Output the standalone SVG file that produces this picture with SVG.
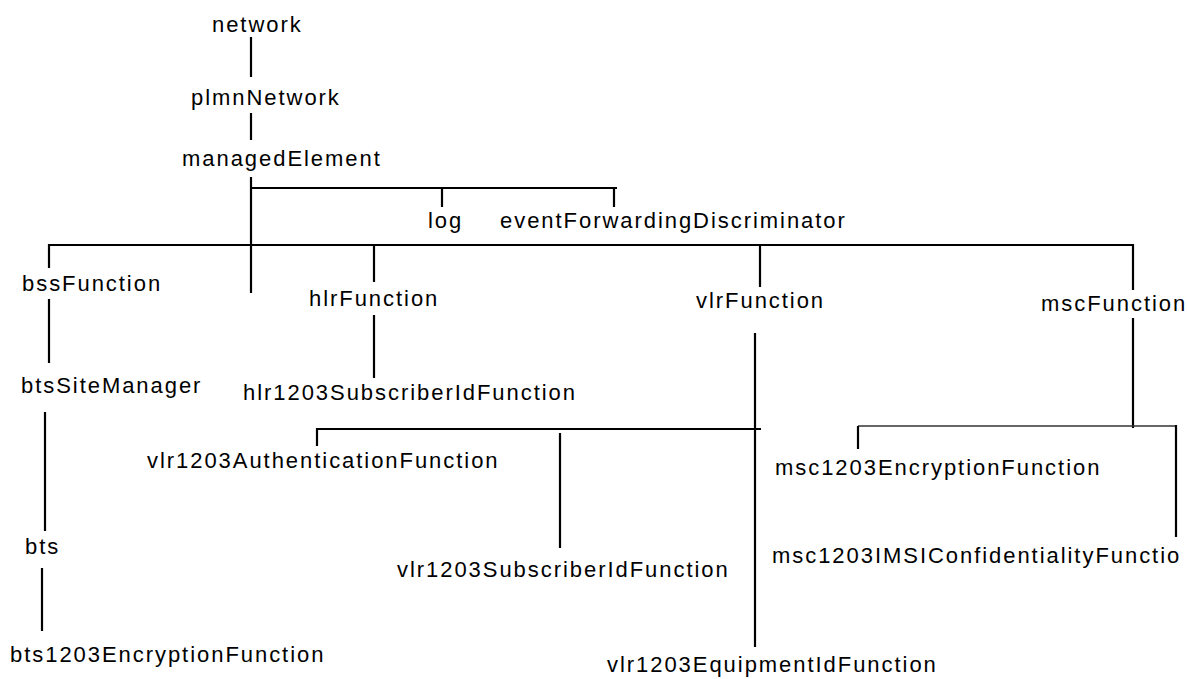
<svg xmlns="http://www.w3.org/2000/svg" width="1187" height="679" viewBox="0 0 1187 679">
<style>
text{font-family:"Liberation Sans",Arial,sans-serif;font-size:22px;letter-spacing:1.95px;fill:#000}
.c line{stroke:#000;stroke-width:2.2;fill:none}
.c line.thin{stroke:#333;stroke-width:1.6}
</style>
<rect width="1187" height="679" fill="#fff"/>
<g class="c" id="connectors">
<line x1="251" y1="37" x2="251" y2="77"/>
<line x1="251" y1="113" x2="251" y2="140"/>
<line x1="251" y1="177" x2="251" y2="293"/>
<line x1="250" y1="188" x2="617" y2="188"/>
<line x1="442" y1="188" x2="442" y2="207"/>
<line x1="614" y1="188" x2="614" y2="207"/>
<line x1="48" y1="245" x2="1134" y2="245"/>
<line x1="49" y1="244" x2="49" y2="268"/>
<line x1="49" y1="299" x2="49" y2="363"/>
<line x1="45" y1="412" x2="45" y2="531"/>
<line x1="42" y1="568" x2="42" y2="631"/>
<line x1="374" y1="245" x2="374" y2="282"/>
<line x1="374" y1="315" x2="374" y2="378"/>
<line x1="760" y1="245" x2="760" y2="287"/>
<line x1="755" y1="333" x2="755" y2="647"/>
<line x1="316" y1="429" x2="761" y2="429"/>
<line x1="317" y1="428" x2="317" y2="446"/>
<line x1="560" y1="433" x2="560" y2="548"/>
<line x1="1133" y1="244" x2="1133" y2="290"/>
<line x1="1133" y1="318" x2="1133" y2="428"/>
<line class="thin" x1="858" y1="426" x2="1177" y2="426"/>
<line x1="858" y1="426" x2="858" y2="449"/>
<line x1="1176" y1="425" x2="1176" y2="537"/>
</g>
<g id="network"><text x="212" y="32">network</text></g>
<g id="plmnNetwork"><text x="191" y="105">plmnNetwork</text></g>
<g id="managedElement"><text x="182" y="166">managedElement</text></g>
<g id="log"><text x="428" y="228">log</text></g>
<g id="eventForwardingDiscriminator"><text x="500" y="228">eventForwardingDiscriminator</text></g>
<g id="bssFunction"><text x="22" y="291">bssFunction</text></g>
<g id="hlrFunction"><text x="309" y="306">hlrFunction</text></g>
<g id="vlrFunction"><text x="696" y="308">vlrFunction</text></g>
<g id="mscFunction"><text x="1041" y="311">mscFunction</text></g>
<g id="btsSiteManager"><text x="21" y="393">btsSiteManager</text></g>
<g id="hlr1203SubscriberIdFunction"><text x="243" y="400">hlr1203SubscriberIdFunction</text></g>
<g id="vlr1203AuthenticationFunction"><text x="147" y="468">vlr1203AuthenticationFunction</text></g>
<g id="msc1203EncryptionFunction"><text x="775" y="475">msc1203EncryptionFunction</text></g>
<g id="bts"><text x="25" y="554">bts</text></g>
<g id="vlr1203SubscriberIdFunction"><text x="397" y="577">vlr1203SubscriberIdFunction</text></g>
<g id="msc1203IMSIConfidentialityFunction"><text x="772" y="563">msc1203IMSIConfidentialityFunctio</text></g>
<g id="bts1203EncryptionFunction"><text x="10" y="662">bts1203EncryptionFunction</text></g>
<g id="vlr1203EquipmentIdFunction"><text x="607" y="672">vlr1203EquipmentIdFunction</text></g>
</svg>
